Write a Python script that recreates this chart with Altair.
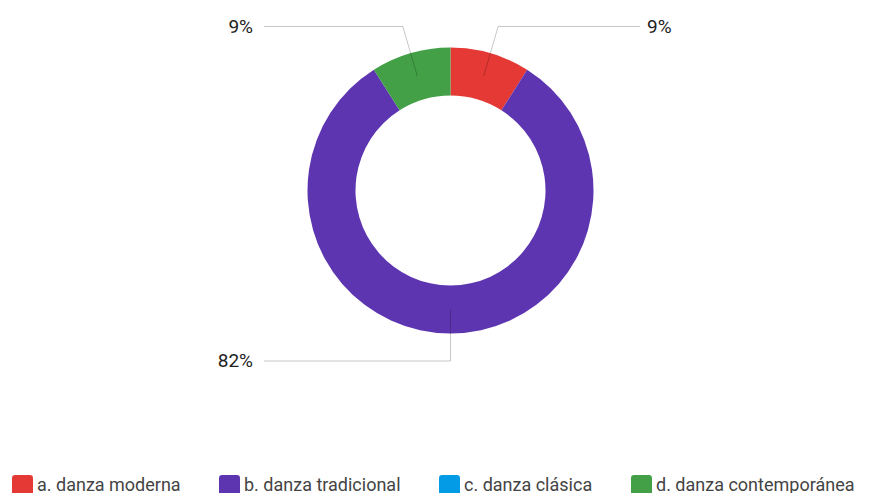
import altair as alt
import pandas as pd

categories = ["a. danza moderna", "b. danza tradicional", "c. danza clásica", "d. danza contemporánea"]
values = [9, 82, 0, 9]
colors = ["#E53935", "#5E35B1", "#039BE5", "#43A047"]

df = pd.DataFrame({"cat": categories, "pct": values})

# layout constants (pixels, relative to the plot origin)
CX, CY = 442.5, 182.5
RO, RI = 143, 95
RM = (RO + RI) / 2
TOP_Y, BOT_Y = 18.5, 353
LEFT_LINE_X, RIGHT_LINE_X = 256, 632
LEFT_TEXT_X, RIGHT_TEXT_X = 245, 639

rounded_square = ("M -1 -0.7 Q -1 -1 -0.7 -1 L 0.7 -1 Q 1 -1 1 -0.7 L 1 0.7 "
                  "Q 1 1 0.7 1 L -0.7 1 Q -1 1 -1 0.7 Z")

base = alt.Chart(df)

arcs = base.mark_arc(outerRadius=RO, innerRadius=RI).encode(
    theta=alt.Theta("pct:Q", stack=True),
    order=alt.Order("cat:N", sort="ascending"),
    color=alt.Color(
        "cat:N",
        scale=alt.Scale(domain=categories, range=colors),
        legend=alt.Legend(
            orient="none", legendX=4, legendY=467, direction="horizontal",
            title=None, symbolType=rounded_square, symbolSize=441,
            symbolStrokeWidth=0, symbolOpacity=1,
            labelFont="Roboto", labelFontSize=18, labelColor="#444",
            labelLimit=400, labelOffset=4, columnPadding=38,
        ),
    ),
    x=alt.value(CX),
    y=alt.value(CY),
)

geo = (
    base.transform_joinaggregate(total="sum(pct)")
    .transform_window(cum="sum(pct)", sort=[alt.SortField("cat")], frame=[None, 0])
    .transform_filter("datum.pct > 0")
    .transform_calculate(mid="2*PI*(datum.cum - datum.pct/2)/datum.total")
    .transform_calculate(
        sx=f"{CX} + {RM}*sin(datum.mid)",
        sy=f"{CY} - {RM}*cos(datum.mid)",
        ly=f"cos(datum.mid) > 0 ? {TOP_Y} : {BOT_Y}",
        isleft="sin(datum.mid) < 1e-6",
        lab="format(datum.pct/datum.total, '.0%')",
    )
    .transform_calculate(
        ex="datum.sx + ((datum.ly - datum.sy)/(-cos(datum.mid)))*sin(datum.mid)",
        hx=f"datum.isleft ? {LEFT_LINE_X} : {RIGHT_LINE_X}",
        tx=f"datum.isleft ? {LEFT_TEXT_X} : {RIGHT_TEXT_X}",
    )
)

leader1 = geo.mark_rule(stroke="#000", strokeOpacity=0.22, strokeWidth=1).encode(
    x=alt.X("sx:Q", scale=None, axis=None),
    y=alt.Y("sy:Q", scale=None, axis=None),
    x2="ex:Q",
    y2="ly:Q",
)
leader2 = geo.mark_rule(stroke="#000", strokeOpacity=0.22, strokeWidth=1).encode(
    x=alt.X("ex:Q", scale=None, axis=None),
    y=alt.Y("ly:Q", scale=None, axis=None),
    x2="hx:Q",
)

text_left = geo.transform_filter("datum.isleft").mark_text(
    align="right", baseline="middle", font="Roboto", fontSize=19, color="#222"
).encode(
    x=alt.X("tx:Q", scale=None, axis=None),
    y=alt.Y("ly:Q", scale=None, axis=None),
    text="lab:N",
)
text_right = geo.transform_filter("!datum.isleft").mark_text(
    align="left", baseline="middle", font="Roboto", fontSize=19, color="#222"
).encode(
    x=alt.X("tx:Q", scale=None, axis=None),
    y=alt.Y("ly:Q", scale=None, axis=None),
    text="lab:N",
)

chart = (
    alt.layer(arcs, leader1, leader2, text_left, text_right)
    .properties(width=853, height=485, autosize=alt.AutoSizeParams(type="none"), padding=0)
    .configure_view(stroke=None)
)

chart.save("out.html", embed_options={"renderer": "svg", "actions": False})
